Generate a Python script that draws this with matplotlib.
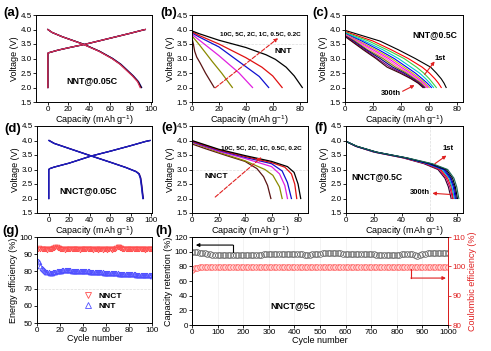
import matplotlib
matplotlib.use('Agg')
import matplotlib.pyplot as plt

plt.rcParams['font.family'] = ['Liberation Sans', 'DejaVu Sans']
plt.rcParams['mathtext.fontset'] = 'custom'
plt.rcParams['mathtext.rm'] = 'Liberation Sans'
plt.rcParams['mathtext.it'] = 'Liberation Sans:italic'

# ---- (a) NNT @ 0.05C, charge / discharge of a few cycles
A_CHG_CAP = [0, 0, 1, 10, 20, 36, 50, 65, 80, 92, 94.5]
A_CHG_V = [2.0, 3.18, 3.2, 3.29, 3.37, 3.49, 3.61, 3.74, 3.87, 3.98, 4.0]
A_DIS_V = [4.0, 3.9, 3.75, 3.5, 3.25, 3.0, 2.8, 2.6, 2.4, 2.2, 2.0]
A_DIS_CAPS = [
    [0, 4, 14, 34, 50, 63, 71, 77, 83, 88, 91],
    [0, 4, 14, 34, 50, 62.5, 70.5, 76.5, 82.5, 87.5, 90.5],
    [0, 4, 14, 34, 50, 62.5, 70.5, 76.5, 82.5, 87.5, 90.5],
    [0, 4, 14, 33.5, 49.5, 62, 70, 76, 82, 87, 89.5],
]
A_COLORS = ['#3030c0', '#7a2a8a', 'black', '#e0305a']

# ---- (b) NNT rate capability
RATES = ['10C', '5C', '2C', '1C', '0.5C', '0.2C']
RATE_COLORS = ['#5a1414', '#8a8a00', '#e020e0', '#1010d0', '#e01010', 'black']
B_CAPS = [
    [0, 1, 2, 3.5, 6, 10, 16.5],
    [0, 5, 15, 22, 30],
    [0, 5, 20, 35, 45],
    [0, 5, 20, 40, 50, 57],
    [0, 5, 20, 40, 52, 60, 67],
    [0, 5, 20, 40, 55, 62, 70, 76, 82],
]
B_VOLTS = [
    [3.7, 3.5, 3.25, 3.05, 2.85, 2.5, 2.0],
    [3.78, 3.5, 2.9, 2.5, 2.0],
    [3.83, 3.65, 3.1, 2.5, 2.0],
    [3.88, 3.75, 3.4, 2.72, 2.38, 2.0],
    [3.92, 3.8, 3.5, 3.03, 2.7, 2.4, 2.0],
    [3.95, 3.86, 3.63, 3.38, 3.13, 2.97, 2.7, 2.4, 2.0],
]

# ---- (c) NNT @ 0.5C cycling (1st ... 300th)
C_GRID_V = [3.6, 3.3, 3.0, 2.7, 2.5, 2.3, 2.15, 2.0]
C_START_V = [3.97, 3.93, 3.9, 3.88, 3.86, 3.84, 3.82, 3.8, 3.79, 3.78, 3.77, 3.76]
C_CAPS = [
    [25, 38, 50, 61, 65, 68.5, 70.5, 72],
    [20, 33, 45, 55, 60, 64, 66.5, 68.5],
    [17, 30, 42, 51, 56, 60, 62.5, 65],
    [14, 27, 38, 47, 53, 57.5, 60.5, 63],
    [12, 24, 35, 44, 50, 55, 58.5, 61.5],
    [10, 22, 33, 42, 48, 53.5, 57, 60],
    [9, 20, 31, 40, 46.5, 52, 56, 59],
    [8, 18, 29, 38, 45, 50.5, 55, 58],
    [7, 16, 27, 36, 43.5, 49.5, 54, 57],
    [6, 15, 25, 34, 42, 48.5, 53, 56.5],
    [5, 14, 23, 32, 40.5, 47.5, 52.5, 56],
    [4.5, 13, 22, 30, 39, 47, 52, 55.5],
]
C_COLORS = ['black', 'red', '#40d040', '#00c8c8', 'blue', '#c8c800', 'magenta',
            '#ff70b0', '#808000', '#000080', '#800080', '#3a0a0a']

# ---- (d) NNCT @ 0.05C
D_CHG_CAP = [0, 0, 1, 5, 20, 41, 60, 80, 95, 99]
D_CHG_V = [2.0, 3.0, 3.03, 3.08, 3.22, 3.46, 3.63, 3.82, 3.97, 4.0]
D_DIS_CAP = [0, 5, 20, 41, 60, 75, 85, 88, 89.5, 90.5, 91.3, 92]
D_DIS_V = [4.0, 3.9, 3.72, 3.47, 3.25, 3.07, 2.93, 2.85, 2.7, 2.45, 2.2, 2.0]
D_SHIFT = [0.6, 0.3, 0]
D_COLORS = ['#5a1a8a', '#000080', '#2020c0']

# ---- (e) NNCT rate capability
E_CAPS = [
    [0, 10, 26, 40, 49, 54, 57, 59.5],
    [0, 20, 40, 55, 61, 66, 68],
    [0, 20, 40, 60, 66, 70, 72],
    [0, 20, 40, 60, 68, 72, 75],
    [0, 20, 40, 60, 70, 75, 77.5, 79],
    [0, 20, 40, 60, 72, 77, 80, 82],
]
E_VOLTS = [
    [3.88, 3.72, 3.48, 3.28, 3.03, 2.75, 2.45, 2.0],
    [3.93, 3.6, 3.3, 3.0, 2.8, 2.4, 2.0],
    [3.95, 3.63, 3.38, 3.1, 2.85, 2.45, 2.0],
    [3.96, 3.66, 3.42, 3.2, 2.95, 2.55, 2.0],
    [3.98, 3.68, 3.45, 3.24, 3.08, 2.85, 2.5, 2.0],
    [4.0, 3.7, 3.48, 3.28, 3.1, 2.9, 2.5, 2.0],
]

# ---- (f) NNCT @ 0.5C cycling
F_GRID_V = [3.97, 3.8, 3.6, 3.4, 3.2, 3.0, 2.7, 2.4, 2.0]
F_CAPS = [
    [0, 7, 20, 41, 56, 66, 71, 73.5, 75.5],
    [0, 7, 20.5, 41.5, 57, 67, 72, 74.5, 76.5],
    [0, 7.2, 21, 42, 58, 68, 73, 75.5, 77],
    [0, 7.4, 21, 42.5, 58.5, 69, 74, 76, 77.8],
    [0, 7.5, 21.5, 43, 59, 70, 74.8, 77, 78.5],
    [0, 7.6, 21.5, 43, 60, 71, 75.5, 77.8, 79.2],
    [0, 7.8, 22, 43.5, 61, 72, 76.5, 78.5, 80],
    [0, 8, 22, 44, 62, 73, 77.5, 79.5, 81],
]
F_COLORS = ['#300030', '#c00060', 'red', '#00c0c0', 'blue', '#000080', 'black', '#1a6a5a']

# ---- (g) energy efficiency, cycles 1..100
G_CYCLES = list(range(1, 101))
G_NNCT = [93.0, 93.4, 92.8, 93.1, 93.2, 92.9, 93.0, 93.3, 92.7, 93.1,
          93.0, 92.8, 93.2, 93.4, 93.6, 93.9, 94.1, 93.8, 93.5, 93.2,
          92.9, 93.0, 93.1, 92.7, 92.9, 93.2, 93.0, 92.8, 93.1, 92.9,
          93.0, 93.2, 92.8, 92.9, 93.1, 93.0, 92.7, 92.9, 93.1, 93.0,
          92.8, 93.0, 93.2, 92.9, 92.8, 93.0, 93.1, 92.9, 92.7, 92.9,
          93.0, 92.8, 92.6, 92.8, 93.0, 92.9, 92.7, 92.8, 93.0, 92.8,
          92.7, 92.9, 93.0, 92.8, 92.7, 92.9, 93.1, 93.3, 93.6, 93.9,
          94.0, 93.8, 93.5, 93.3, 93.1, 93.0, 92.9, 93.1, 93.0, 92.8,
          93.0, 93.1, 92.9, 92.8, 93.0, 93.1, 92.9, 92.8, 93.0, 92.9,
          92.8, 93.0, 92.9, 92.7, 92.9, 93.0, 92.8, 92.9, 93.0, 92.8]
G_NNT = [86.0, 85.2, 83.0, 82.1, 81.4, 80.8, 80.3, 79.9, 79.6, 79.4,
         79.3, 79.2, 79.3, 79.4, 79.6, 79.8, 80.0, 80.1, 80.3, 80.4,
         80.5, 80.6, 80.6, 80.7, 80.7, 80.7, 80.6, 80.6, 80.6, 80.5,
         80.5, 80.5, 80.4, 80.4, 80.5, 80.4, 80.4, 80.3, 80.3, 80.2,
         80.2, 80.1, 80.1, 80.0, 80.0, 79.9, 79.9, 79.8, 79.8, 79.7,
         79.7, 79.6, 79.6, 79.5, 79.5, 79.4, 79.4, 79.3, 79.3, 79.2,
         79.2, 79.1, 79.1, 79.0, 79.0, 78.9, 78.9, 78.9, 78.8, 78.8,
         78.7, 78.7, 78.6, 78.6, 78.6, 78.5, 78.5, 78.4, 78.4, 78.4,
         78.3, 78.3, 78.3, 78.2, 78.2, 78.1, 78.1, 78.1, 78.0, 78.0,
         77.9, 77.9, 77.9, 77.8, 77.8, 77.8, 77.7, 77.7, 77.7, 77.6]

# ---- (h) NNCT @ 5C long cycling, every 10th cycle
H_CYCLES = list(range(0, 1001, 10))
H_RETENTION = [100.0, 99.6, 99.2, 98.8, 98.3, 97.8, 97.2, 96.6, 96.0, 95.6, 95.3,
               95.2, 95.1, 95.0, 95.0, 95.0, 95.2, 95.4, 95.5, 95.6, 95.7,
               95.8, 95.9, 96.0, 96.0, 96.1, 96.1, 96.1, 96.2, 96.2, 96.2,
               96.2, 96.3, 96.3, 96.3, 96.4, 96.4, 96.4, 96.5, 96.5, 96.5,
               96.4, 96.3, 96.2, 96.0, 95.9, 96.0, 96.3, 96.8, 97.2, 97.5,
               97.8, 98.0, 98.1, 98.0, 97.9, 97.8, 97.7, 97.6, 97.5, 97.4,
               97.3, 97.2, 97.1, 97.0, 96.9, 96.8, 96.7, 96.6, 96.5, 96.4,
               96.2, 96.0, 95.8, 95.7, 95.6, 95.5, 95.4, 95.4, 95.4, 95.5,
               96.0, 96.6, 97.1, 97.3, 97.0, 96.2, 95.0, 94.0, 94.8, 96.5,
               97.4, 97.8, 98.0, 98.1, 98.1, 98.0, 98.0, 97.9, 97.8, 97.7]
H_COULOMBIC = [98.7, 99.4, 99.6, 99.7, 99.7, 99.8, 99.8, 99.7, 99.8, 99.8, 99.7,
               99.8, 99.8, 99.7, 99.8, 99.8, 99.8, 99.7, 99.8, 99.8, 99.8,
               99.7, 99.8, 99.8, 99.8, 99.7, 99.8, 99.8, 99.8, 99.7, 99.8,
               99.8, 99.8, 99.7, 99.8, 99.8, 99.8, 99.7, 99.8, 99.8, 99.8,
               99.7, 99.8, 99.8, 99.8, 99.7, 99.8, 99.8, 99.8, 99.7, 99.8,
               99.8, 99.8, 99.7, 99.8, 99.8, 99.8, 99.7, 99.8, 99.8, 99.8,
               99.7, 99.8, 99.8, 99.8, 99.7, 99.8, 99.8, 99.8, 99.7, 99.8,
               99.8, 99.8, 99.7, 99.8, 99.8, 99.8, 99.7, 99.8, 99.8, 99.8,
               99.7, 99.8, 99.8, 99.8, 99.7, 99.8, 99.8, 99.8, 99.7, 99.8,
               99.8, 99.8, 99.7, 99.8, 99.8, 99.8, 99.7, 99.8, 99.8, 99.8]

W, H = 491, 351
TICK_FS = 5.8
LABEL_FS = 6.5
CAP_LABEL = 'Capacity (mAh g$^{-1}$)'


def add_ax(fig, left, top, right, bottom):
    # positions given in pixels of the reference picture
    return fig.add_axes([left / W, 1 - bottom / H, (right - left) / W, (bottom - top) / H])


def style(ax):
    ax.tick_params(direction='out', length=2, width=0.6, pad=1, labelsize=TICK_FS,
                   top=False, right=False)
    for s in ax.spines.values():
        s.set_linewidth(0.7)


def voltage_axes(ax, xlim, xticks):
    style(ax)
    ax.set_xlim(*xlim)
    ax.set_xticks(xticks)
    ax.set_ylim(1.5, 4.5)
    ax.set_yticks([1.5, 2.0, 2.5, 3.0, 3.5, 4.0, 4.5])
    ax.set_xlabel(CAP_LABEL, fontsize=LABEL_FS, labelpad=0)
    ax.set_ylabel('Voltage (V)', fontsize=LABEL_FS, labelpad=1)


def red_arrow(ax, start, end, dashed=False):
    ax.annotate('', xy=end, xytext=start,
                arrowprops=dict(arrowstyle='-|>', color='#e02020', lw=0.8,
                                linestyle='--' if dashed else '-',
                                mutation_scale=5, shrinkA=0, shrinkB=0))


def bold(ax, x, y, s, fs=6.5, **kw):
    ax.text(x, y, s, fontsize=fs, fontweight='bold', ha='center', va='center', **kw)


def main():
    fig = plt.figure(figsize=(W / 100, H / 100), dpi=100)

    # (a)
    ax = add_ax(fig, 36, 15, 152, 102)
    for caps, c in zip(A_DIS_CAPS, A_COLORS):
        ax.plot(A_CHG_CAP, A_CHG_V, color=c, lw=0.9)
        ax.plot(caps, A_DIS_V, color=c, lw=0.9)
    voltage_axes(ax, (-11.5, 101), [0, 20, 40, 60, 80, 100])
    bold(ax, 43, 2.25, 'NNT@0.05C')

    # (b)
    ax = add_ax(fig, 192, 15, 307, 102)
    for caps, volts, c in zip(B_CAPS, B_VOLTS, RATE_COLORS):
        ax.plot(caps, volts, color=c, lw=0.9)
    voltage_axes(ax, (0, 85.5), [0, 20, 40, 60, 80])
    ax.axhline(3.5, color='#dddddd', lw=0.5, ls='--', zorder=0)
    red_arrow(ax, (17.3, 1.99), (64, 3.7), dashed=True)
    bold(ax, 51, 3.85, ', '.join(RATES), fs=4.6)
    bold(ax, 68, 3.25, 'NNT', fs=6)

    # (c)
    ax = add_ax(fig, 345, 15, 463, 102)
    for v0, caps, c in zip(C_START_V, C_CAPS, C_COLORS):
        ax.plot([0] + caps, [v0] + C_GRID_V, color=c, lw=0.8)
    voltage_axes(ax, (0, 84), [0, 20, 40, 60, 80])
    bold(ax, 64, 3.83, 'NNT@0.5C', fs=6.2)
    bold(ax, 68, 3.01, '1st', fs=5.5)
    red_arrow(ax, (56.7, 2.45), (63.8, 2.9))
    bold(ax, 33, 1.79, '300th', fs=5.5)
    red_arrow(ax, (41, 1.87), (49.5, 2.08))

    # (d)
    ax = add_ax(fig, 37, 126, 152, 213)
    for sh, c in zip(D_SHIFT, D_COLORS):
        ax.plot(D_CHG_CAP, D_CHG_V, color=c, lw=0.9)
        ax.plot([x + sh for x in D_DIS_CAP], D_DIS_V, color=c, lw=0.9)
    voltage_axes(ax, (-11.5, 101), [0, 20, 40, 60, 80, 100])
    bold(ax, 39, 2.27, 'NNCT@0.05C')

    # (e)
    ax = add_ax(fig, 192, 126, 308, 213)
    for caps, volts, c in zip(E_CAPS, E_VOLTS, RATE_COLORS):
        ax.plot(caps, volts, color=c, lw=0.9)
    voltage_axes(ax, (0, 87.5), [0, 20, 40, 60, 80])
    ax.axhline(3.0, color='#dddddd', lw=0.5, ls='--', zorder=0)
    red_arrow(ax, (17.5, 2.05), (52.5, 3.42), dashed=True)
    bold(ax, 52, 3.76, ', '.join(RATES), fs=4.6)
    bold(ax, 18, 2.77, 'NNCT', fs=6)

    # (f)
    ax = add_ax(fig, 346, 126, 463, 213)
    for caps, c in zip(F_CAPS, F_COLORS):
        ax.plot(caps, F_GRID_V, color=c, lw=0.8)
    voltage_axes(ax, (0, 84), [0, 20, 40, 60, 80])
    ax.axvline(60, color='#dddddd', lw=0.5, ls='--', zorder=0)
    bold(ax, 22, 2.77, 'NNCT@0.5C', fs=6.2)
    bold(ax, 73.5, 3.71, '1st', fs=5.5)
    red_arrow(ax, (63.8, 3.2), (72.1, 3.48))
    bold(ax, 53, 2.21, '300th', fs=5.5)
    red_arrow(ax, (74.5, 2.14), (62, 2.18))

    # (g)
    ax = add_ax(fig, 37, 237, 152, 323)
    style(ax)
    ax.plot(G_CYCLES, G_NNCT, 'v', ls='none', ms=3.4, mfc='none', mec='#ff5050', mew=0.6,
            label='NNCT')
    ax.plot(G_CYCLES, G_NNT, '^', ls='none', ms=3.4, mfc='none', mec='#5050ff', mew=0.6,
            label='NNT')
    ax.axhline(70, color='#dddddd', lw=0.5, ls='--', zorder=0)
    ax.set_xlim(0, 100)
    ax.set_ylim(50, 100)
    ax.set_xticks([0, 20, 40, 60, 80, 100])
    ax.set_yticks([50, 60, 70, 80, 90, 100])
    ax.set_xlabel('Cycle number', fontsize=LABEL_FS, labelpad=0)
    ax.set_ylabel('Energy efficiency (%)', fontsize=LABEL_FS, labelpad=1)
    leg = ax.legend(loc='lower left', bbox_to_anchor=(0.31, 0.06), frameon=False,
                    fontsize=6, handletextpad=0.2, labelspacing=0.35, markerscale=1.2)
    for t in leg.get_texts():
        t.set_fontweight('bold')

    # (h)
    ax = add_ax(fig, 192, 237, 448, 325)
    style(ax)
    ax2 = ax.twinx()
    ax.plot(H_CYCLES, H_RETENTION, 'o', ls='none', ms=4.2, mfc='none', mec='#666666', mew=0.5)
    ax2.plot(H_CYCLES, H_COULOMBIC, 'o', ls='none', ms=4.0, mfc='#ffd8d8', mec='#ff5050', mew=0.5)
    ax.set_xlim(0, 1000)
    ax.set_ylim(0, 120)
    ax.set_xticks(range(0, 1001, 100))
    ax.set_yticks(range(0, 121, 20))
    ax.grid(axis='x', color='#eeeeee', lw=0.5)
    ax.set_axisbelow(True)
    ax.set_xlabel('Cycle number', fontsize=LABEL_FS, labelpad=0)
    ax.set_ylabel('Capacity retention (%)', fontsize=LABEL_FS, labelpad=1)
    ax2.set_ylim(80, 110)
    ax2.set_yticks([80, 90, 100, 110])
    ax2.tick_params(direction='out', length=2, width=0.6, pad=1, labelsize=TICK_FS,
                    colors='#e02020')
    for s in ax2.spines.values():
        s.set_linewidth(0.7)
    ax2.spines['right'].set_color('#e02020')
    ax2.set_ylabel('Coulombic efficiency (%)', fontsize=LABEL_FS, color='#e02020', labelpad=2)
    # guide arrows
    ax.plot([160, 160], [99, 109], color='black', lw=0.8)
    ax.annotate('', xy=(15, 109), xytext=(160, 109),
                arrowprops=dict(arrowstyle='-|>', color='black', lw=0.8, mutation_scale=5,
                                shrinkA=0, shrinkB=0))
    ax2.plot([855, 855], [99, 96], color='#e02020', lw=0.8)
    ax2.annotate('', xy=(992, 96), xytext=(855, 96),
                 arrowprops=dict(arrowstyle='-|>', color='#e02020', lw=0.8, mutation_scale=5,
                                 shrinkA=0, shrinkB=0))
    bold(ax, 394, 26, 'NNCT@5C')

    # panel letters
    for s, x, y in [('(a)', 3, 13), ('(b)', 160, 13), ('(c)', 312, 13),
                    ('(d)', 4, 129), ('(e)', 161, 128), ('(f)', 314, 128),
                    ('(g)', 2, 231), ('(h)', 155, 231)]:
        fig.text(x / W, 1 - y / H, s, fontsize=9.5, fontweight='bold', ha='left', va='center')

    fig.savefig('out.png', dpi=100)


if __name__ == '__main__':
    main()
